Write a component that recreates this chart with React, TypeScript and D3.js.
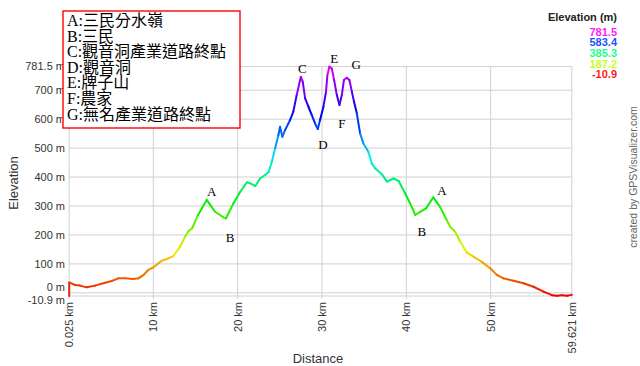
import React from "react";
import * as d3 from "d3";

const distKm = [0.025, 0.03, 0.72, 1.3, 2.1, 3.1, 4.27, 5.07, 5.85, 6.64, 7.63, 8.22, 8.81, 9.4, 10.0, 11.0, 11.78, 12.37, 13.17, 13.76, 14.2, 14.6, 15.3, 16.33, 17.32, 18.3, 18.6, 19.5, 20.3, 21.1, 21.5, 22.1, 22.66, 23.25, 23.7, 24.05, 24.44, 24.83, 25.03, 25.3, 25.62, 26.22, 26.6, 27.0, 27.49, 27.72, 28.0, 28.39, 28.79, 29.18, 29.5, 29.77, 30.17, 30.48, 30.64, 30.88, 31.16, 31.44, 31.76, 32.07, 32.35, 32.6, 32.94, 33.25, 33.54, 33.8, 34.13, 34.52, 34.91, 35.5, 35.9, 36.3, 37.1, 37.7, 38.47, 39.07, 39.86, 40.45, 41.05, 41.64, 42.35, 43.2, 44.0, 44.8, 45.2, 45.8, 46.38, 47.17, 47.96, 48.95, 49.94, 50.73, 51.52, 52.7, 53.9, 55.08, 56.27, 57.26, 57.85, 58.45, 59.04, 59.621];

const elevM = [-10.9, 36, 27, 25, 19, 25, 35, 41, 50, 50, 48, 50, 61, 79, 88, 111, 119, 127, 159, 194, 214, 223, 269, 321, 280, 261, 257, 309, 349, 382, 378, 369, 395, 407, 418, 453, 499, 545, 574, 539, 562, 597, 626, 683, 746, 729, 672, 643, 614, 585, 566, 597, 643, 695, 752, 781.5, 775, 735, 683, 649, 683, 735, 743, 735, 695, 660, 620, 551, 516, 487, 447, 430, 410, 384, 395, 387, 344, 309, 269, 280, 292, 330, 297, 251, 228, 211, 177, 139, 125, 107, 85, 62, 50, 42, 33, 21, 4, -8, -10, -8, -10, -7];

const xTicks = [0.025, 10, 20, 30, 40, 50, 59.621];
const xTickLabels = ["0.025 km", "10 km", "20 km", "30 km", "40 km", "50 km", "59.621 km"];
const yTicks = [-10.9, 0, 100, 200, 300, 400, 500, 600, 700, 781.5];
const yTickLabels = ["-10.9 m", "0 m", "100 m", "200 m", "300 m", "400 m", "500 m", "600 m", "700 m", "781.5 m"];

const legendValues = [781.5, 583.4, 385.3, 187.2, -10.9];

const waypointNotes = [
  "A:三民分水嶺",
  "B:三民",
  "C:觀音洞產業道路終點",
  "D:觀音洞",
  "E:牌子山",
  "F:農家",
  "G:無名產業道路終點",
];

const markLetters = ["A", "B", "C", "D", "E", "F", "G", "A", "B"];
const markKm = [16.93, 19.1, 27.68, 30.1, 31.44, 32.35, 34.05, 44.21, 41.84];
const markElev = [349, 193, 775, 513, 808, 585, 789, 353, 211];

const EMIN = -10.9;
const EMAX = 781.5;

function colorFor(e: number, light = 0.5) {
  const t = Math.max(0, Math.min(1, (e - EMIN) / (EMAX - EMIN)));
  return d3.hsl(300 * t, 1, light).formatHex();
}

export default function App() {
  const W = 640;
  const H = 366;
  const x = d3.scaleLinear().domain([0.025, 59.621]).range([69.2, 571.8]);
  const y = d3.scaleLinear().domain([EMIN, EMAX]).range([296, 66.6]);

  const sans = "'Liberation Sans', Arial, sans-serif";
  const serif = "'Liberation Serif', 'Noto Sans CJK TC', serif";
  const grid = "#d0d0d0";

  const line = d3.line<[number, number]>().x((d) => x(d[0])).y((d) => y(d[1]));
  const segs: { d: string; c: string }[] = [];
  for (let i = 0; i < distKm.length - 1; i++) {
    const p: [number, number][] = [
      [distKm[i], elevM[i]],
      [distKm[i + 1], elevM[i + 1]],
    ];
    segs.push({ d: line(p) || "", c: colorFor((elevM[i] + elevM[i + 1]) / 2, 0.47) });
  }

  return (
    <svg
      width={W}
      height={H}
      style={{ position: "absolute", left: 0, top: 0, background: "#fff" }}
    >
      <rect x={0} y={0} width={W} height={H} fill="#fff" />
      {yTicks.map((t) => (
        <line key={"h" + t} x1={x(0.025)} x2={x(59.621)} y1={y(t)} y2={y(t)} stroke={grid} strokeWidth={1} />
      ))}
      {xTicks.map((t) => (
        <line key={"v" + t} x1={x(t)} x2={x(t)} y1={y(EMAX)} y2={y(EMIN) + 3} stroke={grid} strokeWidth={1} />
      ))}
      {yTicks.map((t, i) => (
        <text
          key={"yl" + t}
          x={65}
          y={y(t)}
          dy={t === 0 ? "-0.15em" : t === EMIN ? "0.75em" : "0.35em"}
          textAnchor="end"
          fontFamily={sans}
          fontSize={11}
          fill="#333"
        >
          {yTickLabels[i]}
        </text>
      ))}
      {xTicks.map((t, i) => (
        <text
          key={"xl" + t}
          transform={`translate(${x(t)},302) rotate(-90)`}
          dy="0.35em"
          textAnchor="end"
          fontFamily={sans}
          fontSize={11}
          fill="#333"
        >
          {xTickLabels[i]}
        </text>
      ))}
      <text x={318} y={363} textAnchor="middle" fontFamily={sans} fontSize={13} fill="#333">
        Distance
      </text>
      <text transform="translate(13,183) rotate(-90)" dy="0.35em" textAnchor="middle" fontFamily={sans} fontSize={13} fill="#333">
        Elevation
      </text>
      {segs.map((s, i) => (
        <path key={"s" + i} d={s.d} stroke={s.c} strokeWidth={2} fill="none" strokeLinecap="round" />
      ))}
      {markLetters.map((m, i) => (
        <text
          key={"m" + i}
          x={x(markKm[i])}
          y={y(markElev[i])}
          dy="0.35em"
          textAnchor="middle"
          fontFamily={serif}
          fontSize={13}
          fill="#000"
        >
          {m}
        </text>
      ))}
      <rect x={63} y={11} width={177} height={117} fill="#fff" stroke="#ff0000" strokeWidth={1.4} />
      {waypointNotes.map((n, i) => (
        <text key={"n" + i} x={67} y={26 + i * 15.6} fontFamily={serif} fontSize={16} fill="#000">
          {n}
        </text>
      ))}
      <text x={617} y={21} textAnchor="end" fontFamily={sans} fontSize={11} fontWeight="bold" fill="#222">
        Elevation (m)
      </text>
      {legendValues.map((v, i) => (
        <text
          key={"lg" + v}
          x={617}
          y={35.5 + i * 10.7}
          textAnchor="end"
          fontFamily={sans}
          fontSize={11}
          fontWeight="bold"
          fill={colorFor(v, 0.55)}
        >
          {String(v)}
        </text>
      ))}
      <text
        transform="translate(633,177) rotate(-90)"
        dy="0.35em"
        textAnchor="middle"
        fontFamily={sans}
        fontSize={10.5}
        fill="#666"
      >
        created by GPSVisualizer.com
      </text>
    </svg>
  );
}
